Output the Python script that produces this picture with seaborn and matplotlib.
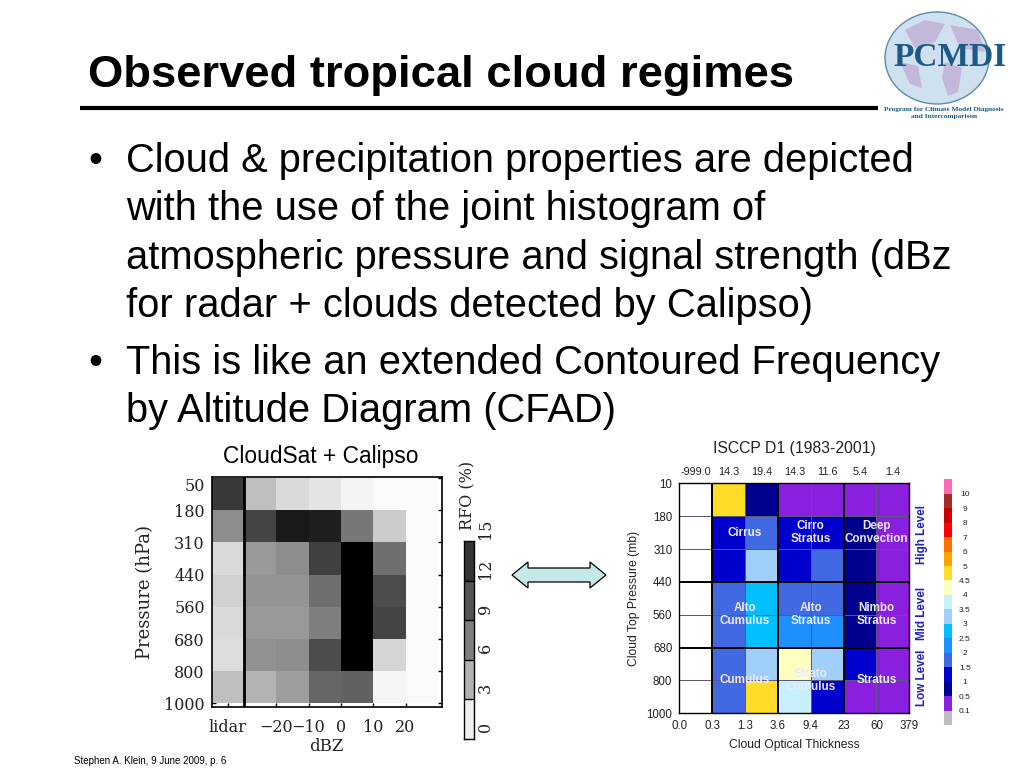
import numpy as np
import matplotlib
matplotlib.use("Agg")
import matplotlib.pyplot as plt
import seaborn as sns
from matplotlib.colors import BoundaryNorm, ListedColormap
from matplotlib.patches import Ellipse, Polygon

# -------- SLIDE TEXT --------
title = "Observed tropical cloud regimes"
bullets = [
    ["Cloud & precipitation properties are depicted",
     "with the use of the joint histogram of",
     "atmospheric pressure and signal strength (dBz",
     "for radar + clouds detected by Calipso)"],
    ["This is like an extended Contoured Frequency",
     "by Altitude Diagram (CFAD)"],
]
footer = "Stephen A. Klein, 9 June 2009, p. 6"

# -------- LEFT PANEL DATA (RFO %) --------
dbz_labels = ["lidar", "\u221220", "\u221210", "0", "10", "20"]
pressure_left = ["50", "180", "310", "440", "560", "680", "800", "1000"]
rfo = [
    [11.7, 3.8, 2.2, 1.6, 0.7, 0.3, 0.3],
    [6.7, 11.0, 13.5, 13.2, 8.0, 3.0, 0.3],
    [2.2, 6.0, 6.7, 11.2, 15.0, 8.5, 0.3],
    [2.7, 6.3, 6.3, 8.5, 15.0, 10.5, 0.3],
    [2.2, 6.0, 6.0, 7.5, 15.0, 11.0, 0.3],
    [2.0, 6.5, 6.7, 10.5, 15.0, 2.5, 0.3],
    [3.8, 4.5, 5.7, 9.0, 9.3, 0.6, 0.3],
]
rfo_ticks = ["0", "3", "6", "9", "12", "15"]
rfo_steps = [1.0, 4.5, 7.5, 10.0, 12.0]

# -------- RIGHT PANEL DATA (frequency %) --------
tau_labels = ["0.0", "0.3", "1.3", "3.6", "9.4", "23", "60", "379"]
pressure_right = ["10", "180", "310", "440", "560", "680", "800", "1000"]
tau_totals = ["-999.0", "14.3", "19.4", "14.3", "11.6", "5.4", "1.4"]
freq = [
    [np.nan, 4.7, 0.7, 0.3, 0.3, 0.3, 0.3],
    [np.nan, 1.2, 1.7, 1.2, 1.2, 0.7, 0.3],
    [np.nan, 1.2, 3.2, 1.2, 1.7, 0.7, 0.3],
    [np.nan, 1.7, 2.7, 1.7, 1.7, 0.7, 0.3],
    [np.nan, 1.7, 2.7, 2.2, 2.2, 0.7, 0.3],
    [np.nan, 1.7, 3.2, 4.2, 3.2, 1.2, 0.3],
    [np.nan, 1.7, 4.7, 3.7, 1.2, 0.3, 0.3],
]
level_bounds = [-1, 0.1, 0.5, 1, 1.5, 2, 2.5, 3, 3.5, 4, 4.5, 5, 6, 7, 8, 9, 10, 12]
level_colors = ["#bdbdbd", "#8a1fe0", "#00008f", "#0000cd", "#4169e1", "#1e90ff",
                "#00bfff", "#a0d0fa", "#c8f0fa", "#ffffc0", "#ffdc28", "#ffa500",
                "#ff7000", "#ff0000", "#c80000", "#a52a2a", "#ff69b4"]
level_mids = [0.0, 0.3, 0.7, 1.2, 1.7, 2.2, 2.7, 3.2, 3.7, 4.2, 4.7, 5.5, 6.5, 7.5, 8.5, 9.5, 11]
level_labels = ["0.1", "0.5", "1", "1.5", "2", "2.5", "3", "3.5", "4", "4.5",
                "5", "6", "7", "8", "9", "10"]
regimes = [("Cirrus", 1, 1.5), ("Cirro\nStratus", 3, 1.5), ("Deep\nConvection", 5, 1.5),
           ("Alto\nCumulus", 1, 4.0), ("Alto\nStratus", 3, 4.0), ("Nimbo\nStratus", 5, 4.0),
           ("Cumulus", 1, 6.0), ("Strato\nCumulus", 3, 6.0), ("Stratus", 5, 6.0)]
level_names = [("High Level", 535), ("Mid Level", 613), ("Low Level", 678)]

# -------- FIGURE --------
W, H = 1024, 768
sns.set_theme(style="white")
plt.rcParams["font.family"] = ["Liberation Sans", "DejaVu Sans"]
plt.rcParams["text.color"] = "black"
fig = plt.figure(figsize=(W / 100, H / 100), dpi=100, facecolor="white")


def px_axes(x0, y0, x1, y1):
    return fig.add_axes([x0 / W, 1 - y1 / H, (x1 - x0) / W, (y1 - y0) / H])


# full-slide layer in pixel coordinates
slide = px_axes(0, 0, W, H)
slide.set_xlim(0, W)
slide.set_ylim(H, 0)
slide.axis("off")

slide.text(88, 87, title, fontsize=32.7, fontweight="bold", va="baseline")
slide.plot([80, 878], [108, 108], color="black", lw=3, solid_capstyle="butt")

y = 172
for group, gap in zip(bullets, [57, 0]):
    slide.text(88, y, "\u2022", fontsize=28.7, va="baseline")
    for i, line in enumerate(group):
        slide.text(126, y, line, fontsize=28.7, va="baseline")
        if i < len(group) - 1:
            y += 48.3
    y += gap

slide.text(74, 761, footer, fontsize=7, va="center")
slide.text(321, 456, "CloudSat + Calipso", fontsize=16.4, ha="center", va="center")

# logo
slide.add_patch(Ellipse((937, 58), 104, 92, fc="#cfe0ee", ec="#5b8cb0", lw=1))
land = [[(905, 30), (925, 20), (945, 24), (935, 42), (915, 48)],
        [(945, 62), (962, 68), (958, 92), (948, 96), (942, 78)],
        [(950, 25), (978, 30), (985, 52), (960, 48)],
        [(900, 62), (918, 66), (922, 88), (910, 84)]]
for blob in land:
    slide.add_patch(Polygon(blob, fc="#c4b8da", ec="none"))
slide.text(950, 58, "PCMDI", fontsize=24, fontweight="bold", family="Liberation Serif",
           color="#1c5a85", ha="center", va="center")
slide.text(944, 113, "Program for Climate Model Diagnosis\nand Intercomparison", fontsize=5.3,
           fontweight="bold", family="Liberation Serif", color="#1c5a85", ha="center",
           va="center", linespacing=1.7)

# double arrow between the panels
slide.add_patch(Polygon([(512, 575), (528, 562), (528, 568), (590, 568), (590, 562), (606, 575),
                         (590, 588), (590, 582), (528, 582), (528, 588)],
                        fc="#c5e8e8", ec="black", lw=0.9))

# -------- LEFT PANEL --------
ax = px_axes(211.7, 476.7, 441.7, 706.7)
sns.heatmap(np.array(rfo), ax=ax, cmap="gray_r", vmin=0, vmax=15, cbar=False,
            xticklabels=False, yticklabels=False)
ax.set_xlim(0, 7.12)
ax.set_ylim(7.10, -0.04)
ax.axvline(1, color="black", lw=2)
serif = "DejaVu Serif"
ax.set_xticks([0.5, 2, 3, 4, 5, 6], dbz_labels, family=serif, fontsize=11.5, color="#222222")
ax.set_yticks(range(8), pressure_left, family=serif, fontsize=11.5, color="#222222")
ax.get_yticklabels()[0].set_va("top")
ax.tick_params(axis="both", direction="in", length=3, width=1, color="black", pad=5,
               left=True, bottom=True, top=False, right=True)
ax.tick_params(axis="x", pad=9)
ax.set_xlabel("dBZ", family=serif, fontsize=12, color="#222222", labelpad=1)
ax.set_ylabel("Pressure (hPa)", family=serif, fontsize=13, color="#222222", labelpad=7)
for s in ax.spines.values():
    s.set_visible(True)
    s.set_color("black")
    s.set_linewidth(1.2)

# left colour bar
cb1 = px_axes(464.3, 541, 474, 739)
sns.heatmap(np.array(rfo_steps[::-1]).reshape(-1, 1), ax=cb1, cmap="gray_r", vmin=0, vmax=15,
            cbar=False, xticklabels=False, yticklabels=False, linewidths=0)
cb1.hlines(range(1, len(rfo_steps)), 0, 1, color="black", lw=1)
for s in cb1.spines.values():
    s.set_visible(True)
    s.set_color("black")
    s.set_linewidth(1)
for i, lab in enumerate(rfo_ticks):
    cb1.annotate(lab, xy=(1, len(rfo_steps) - i), xycoords=("axes fraction", "data"),
                 xytext=(8, 8.5), textcoords="offset points", rotation=90, family=serif,
                 fontsize=11.5, color="#222222", ha="center", va="center")
slide.text(468, 495, "RFO (%)", rotation=90, family=serif, fontsize=11.5, color="#222222",
           ha="center", va="center")

# -------- RIGHT PANEL --------
cmap = ListedColormap(level_colors)
norm = BoundaryNorm(level_bounds, cmap.N)
ax2 = px_axes(679.3, 483.3, 909.3, 713.3)
sns.heatmap(np.array(freq), ax=ax2, cmap=cmap, norm=norm, cbar=False, xticklabels=False,
            yticklabels=False, linewidths=0.4, linecolor="#5a5a78")
ax2.vlines([1, 3, 5], 0, 7, color="black", lw=1.4)
ax2.hlines([3, 5], 0, 7, color="black", lw=1.4)
ax2.set_xticks(range(8), tau_labels, fontsize=8.3, color="#222222")
ax2.set_yticks(range(8), pressure_right, fontsize=8.3, color="#222222")
ax2.tick_params(axis="both", length=0, pad=5)
ax2.set_xlabel("Cloud Optical Thickness", fontsize=8.7, color="#222222", labelpad=5)
ax2.set_ylabel("Cloud Top Pressure (mb)", fontsize=8.7, color="#222222", labelpad=5)
for s in ax2.spines.values():
    s.set_visible(True)
    s.set_color("black")
    s.set_linewidth(1)
for i, lab in enumerate(tau_totals):
    ax2.text(i + 0.5, -0.34, lab, fontsize=7.8, color="#222222", ha="center", va="center")
for name, col, row in regimes:
    ax2.text(col + 1, row, name, fontsize=8.4, fontweight="bold", color="#ece8ff", ha="center",
             va="center", linespacing=1.15)
slide.text(794, 449, "ISCCP D1 (1983-2001)", fontsize=11.3, color="#222222", ha="center", va="center")
for name, yc in level_names:
    slide.text(922, yc, name, rotation=90, fontsize=8.4, fontweight="bold", color="#2020c0",
               ha="center", va="center")

# right colour bar
cb2 = px_axes(944, 479.3, 952.3, 725)
sns.heatmap(np.array(level_mids[::-1]).reshape(-1, 1), ax=cb2, cmap=cmap, norm=norm, cbar=False,
            xticklabels=False, yticklabels=False, linewidths=0)
cb2.yaxis.tick_right()
cb2.set_yticks(np.arange(16, 0, -1), level_labels, fontsize=6, color="#222222", rotation=0, ha="center")
cb2.tick_params(axis="y", length=0, pad=9)

fig.savefig("out.png", dpi=100)
